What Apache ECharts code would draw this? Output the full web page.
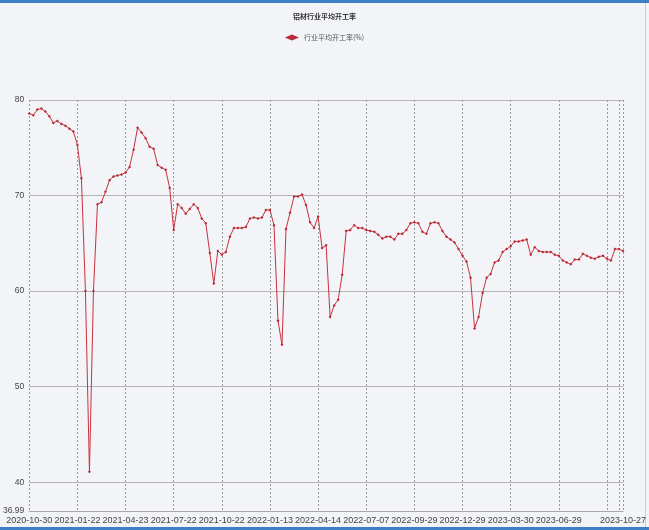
<!DOCTYPE html>
<html><head><meta charset="utf-8">
<script src="https://cdn.jsdelivr.net/npm/echarts@6/dist/echarts.min.js"></script>
<style>html,body{margin:0;padding:0;background:#f3f5f8;}#c{width:649px;height:530px;}</style>
</head><body><div id="c"></div>
<script>
const titleText = '铝材行业平均开工率';
const seriesName = '行业平均开工率(%)';
const dates = ['2020-10-30','2020-11-06','2020-11-13','2020-11-20','2020-11-27','2020-12-04','2020-12-11','2020-12-18','2020-12-25','2021-01-01','2021-01-08','2021-01-15','2021-01-22',
'2021-01-29','2021-02-05','2021-02-19','2021-02-26','2021-03-05','2021-03-12','2021-03-19','2021-03-26','2021-04-02','2021-04-09','2021-04-16','2021-04-23',
'2021-04-30','2021-05-14','2021-05-21','2021-05-28','2021-06-04','2021-06-11','2021-06-18','2021-06-25','2021-07-02','2021-07-09','2021-07-16','2021-07-22',
'2021-07-30','2021-08-06','2021-08-13','2021-08-20','2021-08-27','2021-09-03','2021-09-10','2021-09-17','2021-09-24','2021-09-30','2021-10-15','2021-10-22',
'2021-10-29','2021-11-05','2021-11-12','2021-11-19','2021-11-26','2021-12-03','2021-12-10','2021-12-17','2021-12-24','2021-12-31','2022-01-07','2022-01-13',
'2022-01-20','2022-01-27','2022-02-10','2022-02-17','2022-02-24','2022-03-03','2022-03-10','2022-03-17','2022-03-24','2022-03-31','2022-04-07','2022-04-14',
'2022-04-21','2022-04-28','2022-05-05','2022-05-12','2022-05-19','2022-05-26','2022-06-02','2022-06-09','2022-06-16','2022-06-23','2022-06-30','2022-07-07',
'2022-07-14','2022-07-21','2022-07-28','2022-08-04','2022-08-11','2022-08-18','2022-08-25','2022-09-01','2022-09-08','2022-09-15','2022-09-22','2022-09-29',
'2022-10-13','2022-10-20','2022-10-27','2022-11-03','2022-11-10','2022-11-17','2022-11-24','2022-12-01','2022-12-08','2022-12-15','2022-12-22','2022-12-29',
'2023-01-05','2023-01-12','2023-01-19','2023-02-02','2023-02-09','2023-02-16','2023-02-23','2023-03-02','2023-03-09','2023-03-16','2023-03-23','2023-03-30',
'2023-04-06','2023-04-13','2023-04-20','2023-04-27','2023-05-11','2023-05-18','2023-05-25','2023-06-01','2023-06-08','2023-06-15','2023-06-21','2023-06-29',
'2023-07-06','2023-07-13','2023-07-20','2023-07-27','2023-08-03','2023-08-10','2023-08-17','2023-08-24','2023-08-31','2023-09-07','2023-09-14','2023-09-21','2023-09-28','2023-10-13','2023-10-20','2023-10-27'];
const rates = [78.6,78.4,79.0,79.1,78.8,78.3,77.6,77.8,77.5,77.3,77.0,76.7,75.3,
71.8,60.0,41.1,60.0,69.1,69.3,70.4,71.6,72.0,72.1,72.2,72.4,
73.0,74.8,77.1,76.6,76.0,75.1,74.9,73.2,72.9,72.7,70.8,66.4,
69.1,68.7,68.1,68.6,69.1,68.7,67.6,67.1,64.0,60.8,64.2,63.8,
64.1,65.7,66.6,66.6,66.6,66.7,67.6,67.7,67.6,67.7,68.5,68.5,
66.9,56.9,54.4,66.5,68.2,69.9,69.9,70.1,69.0,67.2,66.6,67.8,
64.5,64.8,57.3,58.5,59.1,61.7,66.3,66.4,66.9,66.6,66.6,66.4,
66.3,66.2,65.9,65.5,65.7,65.7,65.4,66.0,66.0,66.4,67.1,67.2,
67.1,66.2,66.0,67.1,67.2,67.1,66.3,65.7,65.4,65.1,64.4,63.7,
63.1,61.4,56.1,57.3,59.8,61.4,61.8,63.0,63.2,64.1,64.4,64.7,
65.2,65.2,65.3,65.4,63.8,64.6,64.2,64.1,64.1,64.1,63.8,63.7,
63.2,63.0,62.8,63.3,63.3,63.9,63.7,63.5,63.4,63.6,63.7,63.4,63.2,64.4,64.4,64.2];
const yMin = 36.99, yMax = 80;

const last = dates.length - 1;
const sans = "'Liberation Sans',Arial,sans-serif";
const chart = echarts.init(document.getElementById('c'));
chart.setOption({
  backgroundColor: '#f2f4f7',
  animation: false,
  title: { text: titleText, left: 'center', top: 8,
    textStyle: { fontSize: 7, fontWeight: 'bold', color: '#333', fontFamily: "'Noto Sans CJK SC',sans-serif" } },
  legend: { top: 29, left: 'center', itemWidth: 14, itemHeight: 6, itemGap: 4,
    data: [{ name: seriesName, icon: 'diamond' }],
    textStyle: { fontSize: 7, color: '#555', fontFamily: "'Noto Sans CJK SC',sans-serif" } },
  graphic: [
    { type: 'rect', shape: { x: 0, y: 0, width: 649, height: 3 }, style: { fill: '#3b7fc4' }, silent: true },
    { type: 'rect', shape: { x: 0, y: 527, width: 649, height: 3 }, style: { fill: '#3b7fc4' }, silent: true },
    { type: 'rect', shape: { x: 645, y: 3, width: 1, height: 524 }, style: { fill: '#c8ccd2' }, silent: true }
  ],
  grid: { left: 27, right: 22, top: 100, bottom: 19, containLabel: false },
  xAxis: {
    type: 'category', data: dates, boundaryGap: false,
    axisLine: { show: true, lineStyle: { color: '#a9a9a9', width: 1 } },
    axisTick: { show: false },
    axisLabel: { interval: (i) => (i % 12 === 0 && i <= 132) || i === last, showMinLabel: true, showMaxLabel: true,
      fontSize: 9, color: '#444', margin: 5, fontFamily: sans, hideOverlap: false },
    splitLine: { show: true, interval: (i) => i % 12 === 0 || i >= last - 1, lineStyle: { color: '#9a9a9a', type: [2, 2], width: 1 } }
  },
  yAxis: {
    type: 'value', min: yMin, max: yMax,
    axisLine: { show: false }, axisTick: { show: false },
    axisLabel: { fontSize: 8.5, color: '#444', margin: 5, fontFamily: sans,
      formatter: (v) => (Math.abs(v - yMin) < 1e-6 ? '36.99' : String(Math.round(v))) },
    splitLine: { show: true, lineStyle: { color: '#b4b4b4', width: 1.2 } }
  },
  series: [{
    name: seriesName, type: 'line', data: rates,
    symbol: 'diamond', symbolSize: 3, showSymbol: true, showAllSymbol: true,
    lineStyle: { color: '#c8323e', width: 1 },
    itemStyle: { color: '#b82a35' }
  }]
});
</script></body></html>
